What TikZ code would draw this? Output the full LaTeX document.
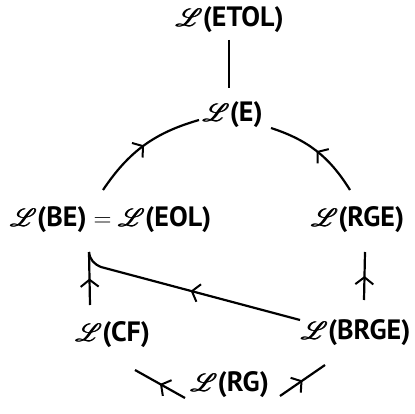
\documentclass[tikz,border=0pt]{standalone}
\usepackage{amsmath}
\usepackage{mathrsfs}
\usepackage{fontspec}
\setmainfont{PT Sans}
\usetikzlibrary{arrows.meta,decorations.markings}

\newcommand{\Lg}[1]{$\pmb{\mathscr{L}}$(#1)}

\begin{document}
\begin{tikzpicture}[x=1pt,y=-1pt,
    lang/.style={font=\fontsize{28}{32}\selectfont\bfseries,inner sep=3pt},
    link/.style={line width=2.2pt},
    mid/.style={link,decoration={markings,
      mark=at position 0.5 with {\arrow{Straight Barb[length=7pt,width=18pt,line width=2pt]}}},
      postaction={decorate}}]
  \useasboundingbox (0,0) rectangle (415,414);
  % the classes
  \node[lang] (etol) at (230,20) {\Lg{ETOL}};
  \node[lang] (e) at (233,115) {\Lg{E}};
  \node[lang] (beeol) at (111,220) {\Lg{BE} $=$ \Lg{EOL}};
  \node[lang] (rge) at (358,220) {\Lg{RGE}};
  \node[lang] (cf) at (113,335) {\Lg{CF}};
  \node[lang] (brge) at (356,333) {\Lg{BRGE}};
  \node[lang] (rg) at (230,385) {\Lg{RG}};
  \coordinate (bein) at ([shift={(-22,32)}]beeol.center);
  % inclusions
  \draw[link] ([shift={(-1,20)}]etol.center) -- ([shift={(-4,-27)}]e.center);
  \draw[mid] ([shift={(-8,-30)}]beeol.center) to[bend left=20] ([shift={(-34,5)}]e.center);
  \draw[mid] ([shift={(-8,-30)}]rge.center) to[bend right=20] ([shift={(38,13)}]e.center);
  \draw[mid] ([shift={(-23,-30)}]cf.center) -- (bein);
  \draw[mid] ([shift={(8,-33)}]brge.center) -- ([shift={(7,32)}]rge.center);
  \draw[mid] ([shift={(-56,-13)}]brge.center) -- ([shift={(-10,47)}]beeol.center)
    .. controls ([shift={(-17,44)}]beeol.center) and ([shift={(-21,40)}]beeol.center) .. (bein);
  \draw[mid] ([shift={(-45,13)}]rg.center) -- ([shift={(22,35)}]cf.center);
  \draw[mid] ([shift={(50,11)}]rg.center) -- ([shift={(-31,32)}]brge.center);
\end{tikzpicture}
\end{document}
